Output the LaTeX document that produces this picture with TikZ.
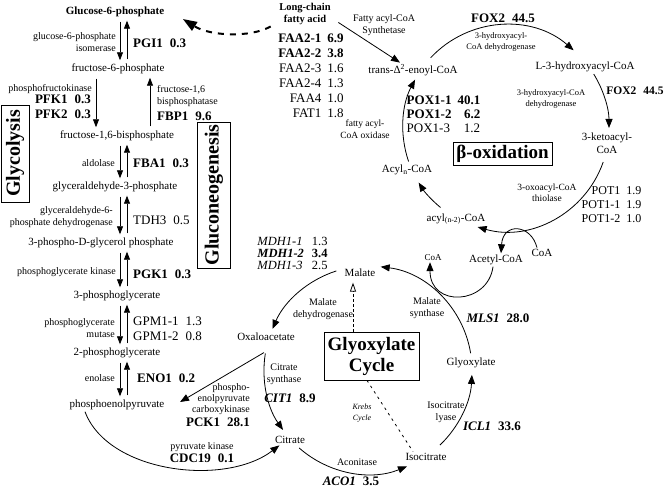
\documentclass[tikz,border=0pt]{standalone}
\usepackage{fontspec}
\setmainfont{Liberation Serif}
\usetikzlibrary{arrows.meta}

\newcommand{\gn}[2]{#1\hspace{7pt}#2}

\tikzset{
  met/.style={font=\fontsize{11}{12}\selectfont, inner sep=1.5pt},
  enz/.style={font=\fontsize{10}{12}\selectfont, inner sep=1pt, align=center},
  gene/.style={font=\fontsize{13}{14.5}\selectfont, inner sep=1pt},
  title/.style={draw, line width=0.8pt, inner sep=0pt, font=\fontsize{20}{21}\selectfont\bfseries},
  flow/.style={line width=0.8pt, -{Triangle[length=9pt,width=7pt]}},
  pair/.style={line width=0.8pt, -{Triangle[length=8pt,width=6pt]}, shorten <=3pt, shorten >=2pt},
}

\begin{document}
\begin{tikzpicture}[x=1pt, y=-1pt]
\useasboundingbox (0,0) rectangle (664,489);

% glycolysis / gluconeogenesis column
\node[met] (g6p) at (115,12) {\bfseries Glucose-6-phosphate};
\node[met] (f6p) at (118,69) {fructose-6-phosphate};
\node[met] (f16bp) at (117,136) {fructose-1,6-bisphosphate};
\node[met] (g3p) at (115,187) {glyceraldehyde-3-phosphate};
\node[met] (pdg) at (101,243) {3-phospho-D-glycerol phosphate};
\node[met] (pg3) at (117,296) {3-phosphoglycerate};
\node[met] (pg2) at (117,353) {2-phosphoglycerate};
\node[met] (pep) at (117,405) {phosphoenolpyruvate};

\coordinate (dn) at (120,0);
\coordinate (up) at (127,0);
\coordinate (pfk) at (96,0);
\coordinate (fbp) at (150,0);

\draw[pair] (dn |- g6p.south) -- (dn |- f6p.north);
\draw[pair] (up |- f6p.north) -- (up |- g6p.south);
\draw[pair] (pfk |- f6p.south) -- (pfk |- f16bp.north);
\draw[pair] (fbp |- f16bp.north) -- (fbp |- f6p.south);
\draw[pair] (dn |- f16bp.south) -- (dn |- g3p.north);
\draw[pair] (up |- g3p.north) -- (up |- f16bp.south);
\draw[pair] (dn |- g3p.south) -- (dn |- pdg.north);
\draw[pair] (up |- pdg.north) -- (up |- g3p.south);
\draw[pair] (dn |- pdg.south) -- (dn |- pg3.north);
\draw[pair] (up |- pg3.north) -- (up |- pdg.south);
\draw[pair] (dn |- pg3.south) -- (dn |- pg2.north);
\draw[pair] (up |- pg2.north) -- (up |- pg3.south);
\draw[pair] (dn |- pg2.south) -- (dn |- pep.north);
\draw[pair] (up |- pep.north) -- (up |- pg2.south);

\node[enz, align=right, anchor=east] (pgi) at (117,42) {glucose-6-phosphate\\isomerase};
\node[gene, anchor=west] (pgi1) at (132,43) {\textbf{\gn{PGI1}{0.3}}};
\node[enz, anchor=east] (pfkname) at (93,89) {phosphofructokinase};
\node[gene, anchor=east, align=right] (pfk12) at (92,107) {\textbf{\gn{PFK1}{0.3}}\\\textbf{\gn{PFK2}{0.3}}};
\node[enz, align=left, anchor=west] (fbpname) at (156,96) {fructose-1,6\\bisphosphatase};
\node[gene, anchor=west] (fbp1) at (156,116) {\textbf{\gn{FBP1}{9.6}}};
\node[enz, anchor=east] (ald) at (116,163) {aldolase};
\node[gene, anchor=west] (fba1) at (132,163) {\textbf{\gn{FBA1}{0.3}}};
\node[enz, align=right, anchor=east] (gapdh) at (114,217) {glyceraldehyde-6-\\phosphate dehydrogenase};
\node[gene, anchor=west] (tdh3) at (132,220) {\gn{TDH3}{0.5}};
\node[enz, anchor=east] (pgkname) at (117,272) {phosphoglycerate kinase};
\node[gene, anchor=west] (pgk1) at (132,274) {\textbf{\gn{PGK1}{0.3}}};
\node[enz, align=right, anchor=east] (mut) at (116,328) {phosphoglycerate\\mutase};
\node[gene, anchor=west] (gpm) at (132,330) {\begin{tabular}{@{}l@{\hspace{7pt}}l@{}}GPM1-1 & 1.3\\GPM1-2 & 0.8\end{tabular}};
\node[enz, anchor=east] (eno) at (116,378) {enolase};
\node[gene, anchor=west] (eno1) at (136,378) {\textbf{\gn{ENO1}{0.2}}};

\node[title, rotate=90, minimum width=97pt, minimum height=28pt] (glyc) at (15,153.5) {Glycolysis};
\node[title, rotate=90, minimum width=146pt, minimum height=33pt] (gluco) at (214,195) {Gluconeogenesis};

% fatty acid entry
\node[met, font=\fontsize{10.5}{12}\selectfont\bfseries, align=center] (lcfa) at (305,14) {Long-chain\\fatty acid};
\node[gene] (faa) at (311,77.5) {\fontsize{13}{15}\selectfont\begin{tabular}{@{}r@{\hspace{6pt}}l@{}}
  \textbf{FAA2-1} & \textbf{6.9}\\
  \textbf{FAA2-2} & \textbf{3.8}\\
  FAA2-3 & 1.6\\
  FAA2-4 & 1.3\\
  FAA4 & 1.0\\
  FAT1 & 1.8
\end{tabular}};
\node[enz] (fas) at (384,25) {Fatty acyl-CoA\\Synthetase};
\draw[line width=2pt, dash pattern=on 6pt off 6pt, -{Triangle[length=14pt,width=10pt]}]
  ([xshift=-7pt]lcfa.south west) .. controls (250,38) and (210,36) .. ([xshift=17pt,yshift=-7pt]g6p.east);

% beta-oxidation
\node[met] (enoyl) at (413,70) {trans-Δ\textsuperscript{2}-enoyl-CoA};
\node[met] (lhyd) at (585,67) {L-3-hydroxyacyl-CoA};
\node[met, align=center, font=\fontsize{11}{12.5}\selectfont] (keto) at (607,143) {3-ketoacyl-\\CoA};
\node[met] (acyln2) at (456,219) {acyl\textsubscript{(n-2)}-CoA};
\node[met] (acyln) at (407,170) {Acyl\textsubscript{n}-CoA};
\node[met] (acetyl) at (496,260) {Acetyl-CoA};
\node[met] (coa1) at (542,253) {CoA};
\node[enz, font=\fontsize{9}{10}\selectfont] (coa2) at (433,258) {CoA};
\node[title, font=\fontsize{19}{20}\selectfont\bfseries, minimum width=99pt, minimum height=23pt] (bbox) at (502.5,153.5) {β-oxidation};

\draw[flow] ([shift={(6pt,4pt)}]lcfa.south east) -- ([xshift=-13pt]enoyl.north);

\node[gene] (fox2a) at (503,18) {\textbf{\gn{FOX2}{44.5}}};
\node[enz, font=\fontsize{8.5}{11}\selectfont] (hd1) at (501,42) {3-hydroxyacyl-\\CoA dehydrogenase};
\node[enz, font=\fontsize{8.5}{11}\selectfont] (hd2) at (551,99) {3-hydroxyacyl-CoA\\dehydrogenase};
\node[gene, font=\fontsize{11.5}{13}\selectfont] (fox2b) at (635,91) {\textbf{\gn{FOX2}{44.5}}};
\node[enz, font=\fontsize{9.5}{11}\selectfont] (thiol) at (547,193) {3-oxoacyl-CoA\\thiolase};
\node[gene, font=\fontsize{12}{14}\selectfont] (pot) at (611.5,206) {\begin{tabular}{@{}r@{\hspace{6pt}}l@{}}
  POT1 & 1.9\\
  POT1-1 & 1.9\\
  POT1-2 & 1.0
\end{tabular}};
\node[enz, font=\fontsize{9.5}{11.5}\selectfont] (fao) at (365,129) {fatty acyl-\\CoA oxidase};
\node[gene, font=\fontsize{13}{14}\selectfont] (pox) at (443.5,116) {\begin{tabular}{@{}l@{\hspace{6pt}}r@{}}
  \textbf{POX1-1} & \textbf{40.1}\\
  \textbf{POX1-2} & \textbf{6.2}\\
  POX1-3 & 1.2
\end{tabular}};

\coordinate (bcen) at (506,128);
\draw[flow] (bcen) ++(-137:103) arc[start angle=-137, end angle=-49, radius=103];
\draw[flow] (bcen) ++(-31.6:103) arc[start angle=-31.6, end angle=0, radius=103];
\draw[flow] (bcen) ++(19.3:103) arc[start angle=19.3, end angle=106, radius=103];
\draw[flow] (bcen) ++(129.5:103) arc[start angle=129.5, end angle=148, radius=103];
\draw[flow] (bcen) ++(161:103) arc[start angle=161, end angle=208, radius=103];

\draw[flow] ([xshift=-5pt]coa1.north) .. controls (531,224) and (503,222) .. ([xshift=5pt]acetyl.north);
\draw[flow] ([xshift=-3pt]acetyl.south) .. controls (488,305) and (430,308) .. ([xshift=-3pt]coa2.south);

% glyoxylate cycle
\node[met] (malate) at (360,273) {Malate};
\node[met] (oxalo) at (266,337) {Oxaloacetate};
\node[met] (citrate) at (290,440) {Citrate};
\node[met] (isocit) at (426,457) {Isocitrate};
\node[met] (glyox) at (471,363) {Glyoxylate};
\node[title, align=center, font=\fontsize{19}{21}\selectfont\bfseries, minimum width=95pt, minimum height=48pt] (gbox) at (371.5,356) {Glyoxylate\\Cycle};

\node[gene, font=\fontsize{12.5}{12}\selectfont] (mdh) at (292.5,255) {\begin{tabular}{@{}l@{\hspace{8pt}}l@{}}
  \textit{MDH1-1} & 1.3\\
  \textbf{\textit{MDH1-2}} & \textbf{3.4}\\
  \textit{MDH1-3} & 2.5
\end{tabular}};
\node[enz] (mdhe) at (323,309) {Malate\\dehydrogenase};
\node[enz] (mse) at (427,308) {Malate\\synthase};
\node[gene] (mls) at (498,318) {\textbf{\gn{\textit{MLS1}}{28.0}}};
\node[enz] (icl) at (446,412) {Isocitrate\\lyase};
\node[gene] (icl1) at (492,426) {\textbf{\gn{\textit{ICL1}}{33.6}}};
\node[enz] (aco) at (357,462) {Aconitase};
\node[gene] (aco1) at (351,481) {\textbf{\gn{\textit{ACO1}}{3.5}}};
\node[enz] (csyn) at (284,374) {Citrate\\synthase};
\node[gene] (cit1) at (290,398) {\textbf{\gn{\textit{CIT1}}{8.9}}};
\node[enz, align=right, anchor=east, font=\fontsize{10}{11}\selectfont] (pcke) at (251,399) {phospho-\\enolpyruvate\\carboxykinase};
\node[gene, anchor=east] (pck1) at (251,422) {\textbf{\gn{PCK1}{28.1}}};
\node[enz] (pk) at (202,447) {pyruvate kinase};
\node[gene] (cdc19) at (202,458) {\textbf{\gn{CDC19}{0.1}}};
\node[enz, font=\fontsize{8}{11}\selectfont\itshape] (krebs) at (362,413) {Krebs\\Cycle};

\coordinate (gcen) at (368,370);
\draw[flow] (gcen) ++(-9.3:104) arc[start angle=-9.3, end angle=-83, radius=104];
\draw[flow] (gcen) ++(-107.7:104) arc[start angle=-107.7, end angle=-156.7, radius=104];
\draw[flow] (gcen) ++(-170.8:104) arc[start angle=-170.8, end angle=-215.2, radius=104];
\draw[flow] (gcen) ++(131.4:104) arc[start angle=131.4, end angle=68, radius=104];
\draw[flow] (gcen) ++(46.2:104) arc[start angle=46.2, end angle=2.7, radius=104];

\draw[flow] ([shift={(-2pt,-10pt)}]oxalo.south) -- ([xshift=14pt,yshift=3pt]pep.east);
\draw[flow] ([xshift=-32pt]pep.south) .. controls (108,473) and (225,487) .. ([xshift=6pt]citrate.south west);

\draw[line width=0.8pt, densely dashed, -{Triangle[open,length=9pt,width=6pt]}, shorten >=4pt]
  ([xshift=-18.5pt]gbox.north) -- ([xshift=-7pt]malate.south);
\draw[line width=0.8pt, dash pattern=on 2.5pt off 4pt] ([xshift=-4.5pt]gbox.south) -- ([xshift=-13pt]isocit.north);
\end{tikzpicture}
\end{document}
